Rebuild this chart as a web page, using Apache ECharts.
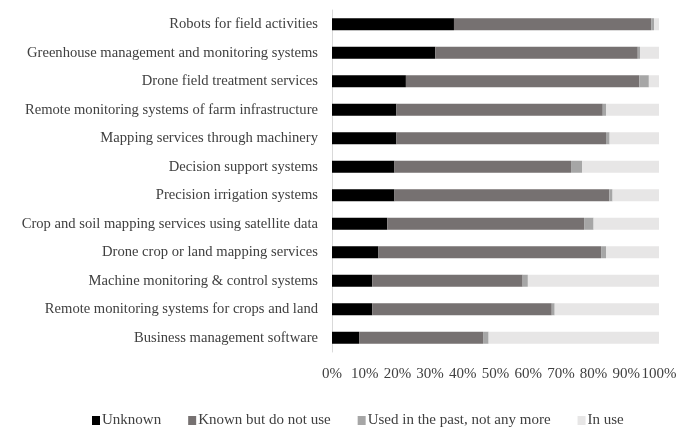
<!DOCTYPE html>
<html><head><meta charset="utf-8">
<script src="https://cdn.jsdelivr.net/npm/echarts@6/dist/echarts.min.js"></script>
<style>html,body{margin:0;padding:0;background:#fff}#c{width:691px;height:429px}</style>
</head><body><div id="c"></div>
<script>
const categories = [
  "Robots for field activities",
  "Greenhouse management and monitoring systems",
  "Drone field treatment services",
  "Remote monitoring systems of farm infrastructure",
  "Mapping services through machinery",
  "Decision support systems",
  "Precision irrigation systems",
  "Crop and soil mapping services using satellite data",
  "Drone crop or land mapping services",
  "Machine monitoring & control systems",
  "Remote monitoring systems for crops and land",
  "Business management software"
];
const unknown = [37.3, 31.6, 22.6, 19.7, 19.7, 19.1, 19.1, 16.9, 14.2, 12.3, 12.3, 8.3];
const knownNotUse = [60.3, 61.9, 71.4, 63.1, 64.1, 54.0, 65.7, 60.2, 68.1, 46.0, 54.9, 37.9];
const usedPast = [0.9, 0.7, 2.9, 1.0, 1.1, 3.4, 1.0, 2.9, 1.5, 1.6, 0.9, 1.7];
const inUse = [1.5, 5.8, 3.1, 16.2, 15.1, 23.5, 14.2, 20.0, 16.2, 40.1, 31.9, 52.1];
const seriesNames = ["Unknown", "Known but do not use", "Used in the past, not any more", "In use"];
const colors = ["#000000", "#767171", "#a6a6a6", "#e7e6e6"];
const font = "'Liberation Serif', 'Times New Roman', serif";
const chart = echarts.init(document.getElementById('c'));
const data = [unknown, knownNotUse, usedPast, inUse];
chart.setOption({
  animation: false,
  color: colors,
  grid: {left: 332, right: 32, top: 10, bottom: 77},
  legend: {
    bottom: -4, left: 87, itemWidth: 8, itemHeight: 9, itemGap: 27,
    icon: 'rect',
    textStyle: {fontFamily: font, fontSize: 15, color: '#404040', padding: [0,0,0,-3]},
    data: seriesNames
  },
  xAxis: {
    type: 'value', min: 0, max: 100, interval: 10,
    axisLine: {show: false}, axisTick: {show: false}, splitLine: {show: false},
    axisLabel: {formatter: '{value}%', fontFamily: font, fontSize: 15, color: '#404040', margin: 15}
  },
  yAxis: {
    type: 'category', inverse: true, data: categories,
    axisLine: {show: true, lineStyle: {color: '#d9d9d9'}}, axisTick: {show: false},
    axisLabel: {fontFamily: font, fontSize: 14.6, color: '#404040', margin: 14}
  },
  series: seriesNames.map((n, i) => ({
    name: n, type: 'bar', stack: 'total', barWidth: 12,
    data: data[i]
  }))
});
</script></body></html>
